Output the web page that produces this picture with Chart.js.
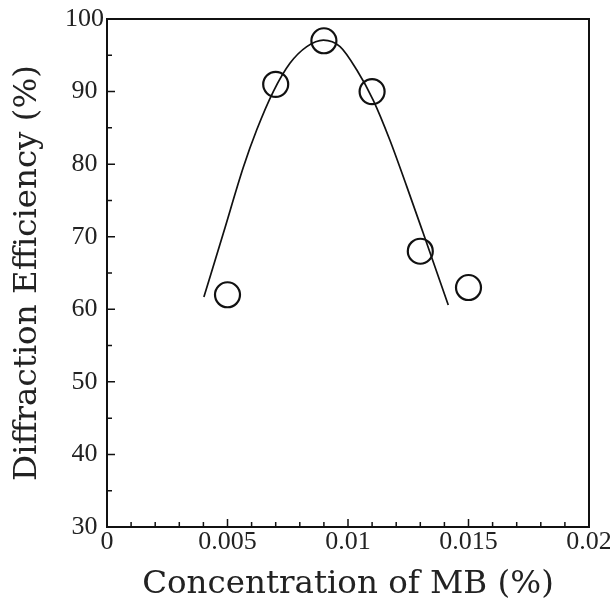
<!DOCTYPE html>
<html>
<head>
<meta charset="utf-8">
<script src="https://cdn.jsdelivr.net/npm/chart.js@4/dist/chart.umd.min.js"></script>
<style>
html,body{margin:0;padding:0;background:#fff;}
#wrap{width:610px;height:604px;}
</style>
</head>
<body>
<div id="wrap"><canvas id="c" width="610" height="604"></canvas></div>
<script>
// measured points
const concX = [0.005, 0.007, 0.009, 0.011, 0.013, 0.015];
const effY  = [62, 91, 97, 90, 68, 63];
// fitted curve
const curveX = [0.00402, 0.00483, 0.00566, 0.00621, 0.0069, 0.00759, 0.00829, 0.00898, 0.00967, 0.01036, 0.01105, 0.01174, 0.01244, 0.01312, 0.01416];
const curveY = [61.7, 70.5, 79.6, 84.7, 90.0, 93.9, 96.2, 97.1, 96.2, 93.0, 88.8, 83.3, 76.9, 70.5, 60.6];
// ticks
const xTickVals = [0, 0.005, 0.01, 0.015, 0.02];
const xTickLabels = ['0', '0.005', '0.01', '0.015', '0.02'];
const xMinorVals = [0.001,0.002,0.003,0.004,0.006,0.007,0.008,0.009,0.011,0.012,0.013,0.014,0.016,0.017,0.018,0.019];
const yTickVals = [30, 40, 50, 60, 70, 80, 90, 100];
const yMinorVals = [35, 45, 55, 65, 75, 85, 95];

const TICKFONT = "'Liberation Serif', 'DejaVu Serif', serif";
const TITLEFONT = "'DejaVu Serif', 'Liberation Serif', serif";

const frameTicks = {
  id: 'frameTicks',
  afterDatasetsDraw(chart) {
    const {ctx, chartArea: a, scales: {x, y}} = chart;
    ctx.save();
    ctx.strokeStyle = '#111';
    ctx.lineWidth = 1.5;
    ctx.beginPath();
    xTickVals.forEach(v => { const px = x.getPixelForValue(v); ctx.moveTo(px, a.bottom); ctx.lineTo(px, a.bottom - 8); });
    xMinorVals.forEach(v => { const px = x.getPixelForValue(v); ctx.moveTo(px, a.bottom); ctx.lineTo(px, a.bottom - 5); });
    yTickVals.forEach(v => { const py = y.getPixelForValue(v); ctx.moveTo(a.left, py); ctx.lineTo(a.left + 8, py); });
    yMinorVals.forEach(v => { const py = y.getPixelForValue(v); ctx.moveTo(a.left, py); ctx.lineTo(a.left + 5, py); });
    ctx.stroke();
    ctx.lineWidth = 2;
    ctx.strokeRect(a.left, a.top, a.right - a.left, a.bottom - a.top);
    ctx.restore();
  }
};

new Chart(document.getElementById('c'), {
  type: 'scatter',
  data: {
    datasets: [
      {
        data: curveX.map((v, i) => ({x: v, y: curveY[i]})),
        showLine: true,
        borderColor: '#111',
        borderWidth: 1.7,
        pointRadius: 0,
        cubicInterpolationMode: 'monotone',
        fill: false
      },
      {
        data: concX.map((v, i) => ({x: v, y: effY[i]})),
        showLine: false,
        pointRadius: 12.5,
        pointBorderWidth: 2.2,
        pointBorderColor: '#111',
        pointBackgroundColor: 'rgba(255,255,255,0)'
      }
    ]
  },
  options: {
    responsive: false,
    animation: false,
    layout: {padding: {top: 19, right: 21, left: 0, bottom: 0}},
    plugins: {legend: {display: false}, tooltip: {enabled: false}},
    scales: {
      x: {
        type: 'linear', min: 0, max: 0.02,
        afterBuildTicks: s => { s.ticks = xTickVals.map(v => ({value: v})); },
        afterFit: s => { s.height = 77; s.paddingLeft = 0; s.paddingRight = 0; },
        grid: {display: false, drawTicks: false},
        border: {display: false},
        ticks: {
          color: '#222', padding: 0,
          font: {family: TICKFONT, size: 26},
          maxRotation: 0, autoSkip: false,
          callback: (v) => { const i = xTickVals.indexOf(v); return i >= 0 ? xTickLabels[i] : ''; }
        },
        title: {display: true, text: 'Concentration of MB (%)', color: '#222', font: {family: TITLEFONT, size: 32.5}, padding: {top: 9, bottom: 0}}
      },
      y: {
        type: 'linear', min: 30, max: 100,
        afterBuildTicks: s => { s.ticks = yTickVals.map(v => ({value: v})); },
        afterFit: s => { s.width = 107; s.paddingTop = 0; s.paddingBottom = 0; },
        grid: {display: false, drawTicks: false},
        border: {display: false},
        ticks: {color: '#222', padding: 3, crossAlign: 'center', font: {family: TICKFONT, size: 26}, autoSkip: false},
        title: {display: true, text: 'Diffraction Efficiency (%)', color: '#222', font: {family: TITLEFONT, size: 32.5}, padding: {top: 8, bottom: 0}}
      }
    }
  },
  plugins: [frameTicks]
});
</script>
</body>
</html>
